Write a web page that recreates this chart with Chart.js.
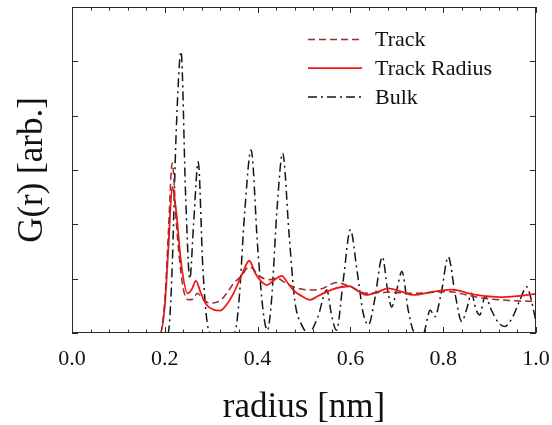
<!DOCTYPE html>
<html>
<head>
<meta charset="utf-8">
<script src="https://cdn.jsdelivr.net/npm/chart.js@4/dist/chart.umd.min.js"></script>
<style>
  html, body { margin: 0; padding: 0; background: #fff; }
  #wrap { width: 552px; height: 425px; }
</style>
</head>
<body>
<div id="wrap"><canvas id="gr" width="552" height="425"></canvas></div>
<script>
// --- Data: radius [nm] and G(r) [arb.] ---
const trackR = [0, 0.19, 0.2, 0.208, 0.216, 0.225, 0.238, 0.251, 0.26, 0.27, 0.285, 0.297, 0.32, 0.335, 0.348, 0.365, 0.382, 0.405, 0.425, 0.441, 0.46, 0.477, 0.513, 0.54, 0.57, 0.6, 0.635, 0.68, 0.743, 0.78, 0.815, 0.85, 0.886, 0.94, 1.0];
const trackG = [0, 0, 0.6, 1.9, 3.13, 2.0, 0.9, 0.61, 0.62, 0.73, 0.6, 0.55, 0.6, 0.75, 0.91, 1.05, 1.22, 1.04, 0.98, 1.01, 0.92, 0.85, 0.79, 0.82, 0.93, 0.85, 0.73, 0.75, 0.73, 0.75, 0.76, 0.7, 0.64, 0.6, 0.58];

const radiusR = [0, 0.19, 0.2, 0.208, 0.216, 0.225, 0.235, 0.249, 0.258, 0.267, 0.277, 0.29, 0.305, 0.319, 0.333, 0.348, 0.365, 0.382, 0.395, 0.41, 0.42, 0.435, 0.452, 0.465, 0.477, 0.495, 0.513, 0.53, 0.56, 0.599, 0.615, 0.635, 0.66, 0.681, 0.71, 0.735, 0.78, 0.821, 0.85, 0.872, 0.922, 0.96, 1.0];
const radiusG = [0, 0, 0.5, 1.6, 2.69, 2.2, 1.3, 0.73, 0.8, 0.96, 0.75, 0.52, 0.43, 0.41, 0.52, 0.73, 1.05, 1.33, 1.1, 0.93, 0.88, 0.97, 1.05, 0.92, 0.79, 0.68, 0.61, 0.68, 0.8, 0.86, 0.78, 0.7, 0.76, 0.82, 0.76, 0.7, 0.76, 0.8, 0.74, 0.7, 0.66, 0.68, 0.72];

const bulkR = [0, 0.2, 0.207, 0.215, 0.225, 0.235, 0.245, 0.254, 0.262, 0.272, 0.282, 0.292, 0.3, 0.35, 0.36, 0.372, 0.386, 0.4, 0.412, 0.421, 0.43, 0.442, 0.454, 0.468, 0.48, 0.495, 0.51, 0.53, 0.549, 0.56, 0.57, 0.585, 0.6, 0.615, 0.628, 0.639, 0.652, 0.669, 0.68, 0.689, 0.7, 0.711, 0.725, 0.739, 0.757, 0.772, 0.782, 0.795, 0.811, 0.826, 0.84, 0.851, 0.861, 0.87, 0.879, 0.89, 0.905, 0.92, 0.933, 0.95, 0.965, 0.98, 0.99, 1.0];
const bulkG = [0, 0, 0, 1.0, 3.8, 5.18, 2.5, 1.0, 2.0, 3.15, 1.2, 0.15, 0, 0, 0.6, 2.2, 3.37, 1.6, 0.4, 0.05, 0.6, 2.3, 3.31, 1.8, 0.6, 0.15, 0, 0.3, 0.79, 0.3, 0.05, 1.0, 1.9, 1.1, 0.35, 0.15, 0.6, 1.4, 0.8, 0.48, 0.8, 1.13, 0.4, 0, 0, 0.42, 0.3, 0.7, 1.4, 0.7, 0.21, 0.45, 0.73, 0.45, 0.33, 0.67, 0.4, 0.18, 0.12, 0.3, 0.6, 0.85, 0.6, 0.2];

const seriesNames = ['Track', 'Track Radius', 'Bulk'];
const xTickStep = 0.2;      // labelled ticks
const xMinorStep = 0.04;    // small ticks
const yTickStep = 1;

const serif = "'Liberation Serif', 'Times New Roman', serif";

const toPoints = (xs, ys) => xs.map((v, i) => ({ x: v, y: ys[i] }));

// draws the closed frame, the inward ticks and the legend inside the plot
const frameAndTicks = {
    id: 'frameAndTicks',
    afterDatasetsDraw(chart) {
        const { ctx, chartArea: a, scales: { x, y } } = chart;
        ctx.save();
        ctx.strokeStyle = '#2a2a2a';
        ctx.lineWidth = 1;
        ctx.setLineDash([]);
        ctx.strokeRect(a.left + 0.5, a.top + 0.5, a.right - a.left - 1, a.bottom - a.top - 1);

        ctx.beginPath();
        const nMinor = Math.round((x.max - x.min) / xMinorStep);
        for (let i = 0; i <= nMinor; i++) {
            const v = x.min + i * xMinorStep;
            const px = Math.round(x.getPixelForValue(v)) + 0.5;
            const len = (i % Math.round(xTickStep / xMinorStep) === 0) ? 6 : 3.5;
            ctx.moveTo(px, a.bottom); ctx.lineTo(px, a.bottom - len);
            ctx.moveTo(px, a.top); ctx.lineTo(px, a.top + len);
        }
        for (let v = y.min; v <= y.max; v += yTickStep) {
            const py = Math.round(y.getPixelForValue(v)) + 0.5;
            ctx.moveTo(a.left, py); ctx.lineTo(a.left + 6, py);
            ctx.moveTo(a.right, py); ctx.lineTo(a.right - 6, py);
        }
        ctx.stroke();

        // legend
        ctx.font = '22px ' + serif;
        ctx.fillStyle = '#111';
        ctx.textBaseline = 'middle';
        chart.data.datasets.forEach((ds, i) => {
            const ly = 39.5 + i * 28.7;
            ctx.beginPath();
            ctx.strokeStyle = ds.borderColor;
            ctx.lineWidth = ds.borderWidth;
            ctx.setLineDash(ds.borderDash || []);
            ctx.moveTo(308, ly); ctx.lineTo(362, ly);
            ctx.stroke();
            ctx.fillText(ds.label, 375, ly + 1);
        });
        ctx.restore();
    }
};

const ctx = document.getElementById('gr').getContext('2d');
new Chart(ctx, {
    type: 'line',
    data: {
        datasets: [
            {
                label: seriesNames[0],
                data: toPoints(trackR, trackG),
                borderColor: '#9a2c2c',
                borderWidth: 1.5,
                borderDash: [7, 4],
                pointRadius: 0,
                tension: 0.3,
                cubicInterpolationMode: 'monotone'
            },
            {
                label: seriesNames[1],
                data: toPoints(radiusR, radiusG),
                borderColor: '#f01818',
                borderWidth: 1.8,
                pointRadius: 0,
                cubicInterpolationMode: 'monotone'
            },
            {
                label: seriesNames[2],
                data: toPoints(bulkR, bulkG),
                borderColor: '#151515',
                borderWidth: 1.5,
                borderDash: [9, 4, 2, 4],
                pointRadius: 0,
                cubicInterpolationMode: 'monotone'
            }
        ]
    },
    options: {
        responsive: false,
        animation: false,
        layout: { padding: { left: 0, right: 16, top: 7, bottom: 0 } },
        plugins: { legend: { display: false }, tooltip: { enabled: false } },
        scales: {
            x: {
                type: 'linear',
                min: 0,
                max: 1,
                grid: { display: false, drawTicks: false },
                border: { display: false },
                ticks: {
                    stepSize: xTickStep,
                    padding: 13,
                    color: '#111',
                    font: { family: serif, size: 22 },
                    callback: v => v.toFixed(1)
                },
                title: {
                    display: true,
                    text: 'radius [nm]',
                    color: '#111',
                    font: { family: serif, size: 35, lineHeight: 1 },
                    padding: { top: 0, bottom: 0 }
                },
                afterFit: s => { s.height = 92; s.paddingLeft = 0; s.paddingRight = 0; }
            },
            y: {
                min: 0,
                max: 6,
                grid: { display: false, drawTicks: false },
                border: { display: false },
                ticks: { display: false, stepSize: yTickStep },
                title: {
                    display: true,
                    text: 'G(r) [arb.]',
                    color: '#111',
                    font: { family: serif, size: 35, lineHeight: 1 },
                    padding: { top: 15, bottom: 0 }
                },
                afterFit: s => { s.width = 72; }
            }
        }
    },
    plugins: [frameAndTicks]
});
</script>
</body>
</html>
